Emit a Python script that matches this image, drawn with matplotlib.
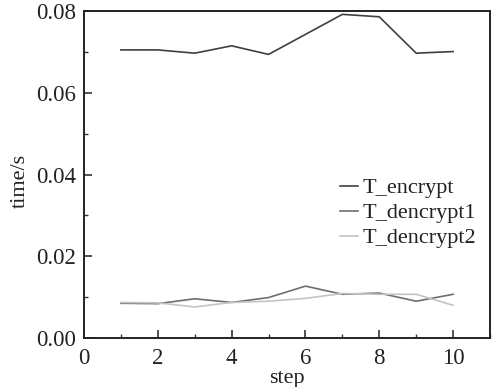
import matplotlib
matplotlib.use("Agg")
import matplotlib.pyplot as plt
from matplotlib.ticker import MultipleLocator

steps = [1, 2, 3, 4, 5, 6, 7, 8, 9, 10]
t_encrypt = [0.0705, 0.0705, 0.0697, 0.0715, 0.0694, 0.0743, 0.0792, 0.0786, 0.0697, 0.0701]
t_dencrypt1 = [0.0085, 0.0084, 0.0096, 0.0087, 0.0099, 0.0127, 0.0107, 0.0110, 0.0090, 0.0107]
t_dencrypt2 = [0.0087, 0.0086, 0.0076, 0.0087, 0.0090, 0.0097, 0.0109, 0.0107, 0.0107, 0.0080]

plt.rcParams['font.family'] = ['Liberation Serif', 'DejaVu Serif']

fig = plt.figure(figsize=(4.92, 3.87), dpi=100)
ax = fig.add_axes([0.1707, 0.1266, 0.996 - 0.1707, 0.9724 - 0.1266])

ax.plot(steps, t_encrypt, color='#404040', lw=1.2, label='T_encrypt')
ax.plot(steps, t_dencrypt1, color='#6e6e6e', lw=1.2, label='T_dencrypt1')
ax.plot(steps, t_dencrypt2, color='#c4c4c4', lw=1.2, label='T_dencrypt2')

ax.set_xlim(0, 11)
ax.set_ylim(0, 0.0801)
ax.xaxis.set_major_locator(MultipleLocator(2))
ax.xaxis.set_minor_locator(MultipleLocator(1))
ax.yaxis.set_major_locator(MultipleLocator(0.02))
ax.yaxis.set_minor_locator(MultipleLocator(0.01))
ax.yaxis.set_major_formatter(matplotlib.ticker.FormatStrFormatter('%.2f'))
ax.tick_params(which='both', direction='in', top=False, right=False, labelsize=16.5, color='#333333', labelcolor='#222222')
ax.tick_params(which='major', length=6, width=1.2)
ax.tick_params(which='minor', length=3, width=1.0)
ax.tick_params(axis='x', which='major', pad=7)
ax.tick_params(axis='y', which='major', pad=6)
for s in ax.spines.values():
    s.set_linewidth(1.4)
    s.set_color('#222222')

ax.set_xlabel('step', fontsize=16, color='#222222')
ax.set_ylabel('time/s', fontsize=16, color='#222222')
ax.xaxis.set_label_coords(0.5, -0.095)
ax.yaxis.set_label_coords(-0.133, 0.48)

leg = ax.legend(loc='center left', bbox_to_anchor=(0.691, 0.4496), bbox_transform=fig.transFigure,
                frameon=False, fontsize=16, handlelength=0.8, handletextpad=0.2,
                borderpad=0, borderaxespad=0, labelspacing=0.2)
for t in leg.get_texts():
    t.set_color('#222222')

fig.savefig('out.png', dpi=100)
